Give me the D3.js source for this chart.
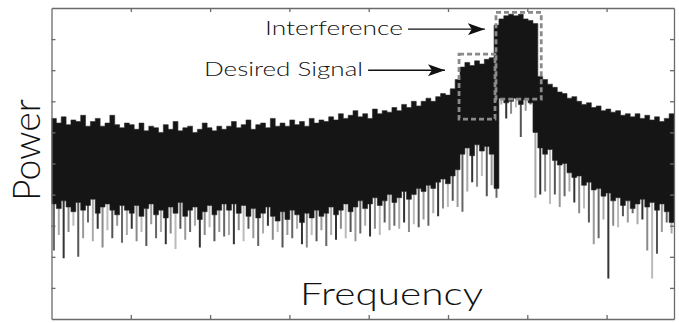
<!DOCTYPE html>
<html>
<head>
<meta charset="utf-8">
<script src="https://cdn.jsdelivr.net/npm/d3@7"></script>
<style>
body { margin: 0; background: #fff; }
text { font-family: "Lato", "DejaVu Sans", sans-serif; font-weight: 300; fill: #111; }
</style>
</head>
<body>
<div id="chart"></div>
<script>
// top of the dense band (power units, 0..100)
var hi = [64.5, 63, 65, 62.5, 64, 63.5, 65.5, 62, 63.5, 64.5, 62, 63, 65.5, 62.5, 61.5, 63,
  62.5, 61, 63, 60.5, 62, 61.5, 60, 62.5, 61, 63.5, 60.5, 61.5, 62, 60, 61, 63, 61.5, 60.5, 62, 61,
  62, 63.5, 61.5, 62.5, 64, 61, 62.5, 63, 61.5, 64.5, 62, 63, 62, 64, 62.5, 63.5, 62, 64.5, 63, 64,
  63.5, 65, 64, 66, 64.5, 65.5, 67, 65, 66, 64.5, 67.5, 66, 67, 66.5, 68,
  67, 69, 68, 70, 68.5, 70, 71, 70, 71.5, 72.5, 72, 74,
  77, 81, 82.5, 81.5, 83, 82, 83.5, 84,
  94.5, 96.5, 97.5, 98, 97.5, 98, 96.5, 96, 95,
  78, 77, 75.5, 74.5, 73, 72.5, 71, 71.5, 70, 69, 69.5, 68, 68.5, 67, 67.5, 66.5, 67, 65.5, 66, 65,
  66, 64.5, 65.5, 64, 65, 63.5, 64.5, 66];
// bottom of the solid band
var lo = [37, 35.5, 38, 36, 34.5, 37.5, 35, 36.5, 38.5, 34, 36, 37, 35, 33.5, 36.5, 35,
  34, 36.5, 33, 35.5, 37, 33.5, 35, 32.5, 36, 34, 37.5, 33, 35, 36, 32, 34.5, 36.5, 33.5, 35, 37,
  35, 37, 34, 36.5, 33, 35.5, 32.5, 34, 36, 33, 31.5, 34.5, 32, 35, 33.5, 31, 34, 32.5, 35, 33,
  34, 36, 33.5, 35, 37, 34.5, 36, 38, 35.5, 37, 39, 36.5, 38, 40, 37.5,
  39, 41, 38.5, 40, 42, 41, 43, 42, 44, 45, 43.5, 46,
  48, 53, 55, 52.5, 56, 54, 55.5, 53,
  42, 71, 69.5, 70, 71, 69, 70.5, 69.5, 60,
  55, 53, 54.5, 51, 49.5, 50, 47, 45.5, 46, 43, 44, 41.5, 42, 39.5, 40.5, 38, 39, 36.5, 38, 35.5,
  37, 38.5, 36, 37.5, 35, 37, 34.5, 31];
// lowest point of each spike
var sp = [22, 27, 19.5, 28, 30, 20, 26, 31, 25, 29, 23, 28.5, 26, 30, 24.5, 27,
  29, 25, 28, 23.5, 30.5, 26, 28, 24, 27.5, 22.5, 29, 25.5, 28, 30, 23, 27, 29.5, 25, 28, 26.5,
  27, 24, 28.5, 25, 29, 26, 23.5, 27.5, 30, 25.5, 28, 23, 27, 26, 29, 24, 23, 27, 25, 28.5,
  23.5, 27, 25.5, 29, 26, 28, 25, 27.5, 30, 26.5, 29, 27, 31, 28.5, 30,
  29, 31, 28, 30.5, 29.5, 32, 30, 34, 33, 35.5, 36, 38,
  36, 34.5, 41, 44, 42.5, 46, 39.5, 43,
  39, 69, 64.5, 66, 68, 58.5, 67, 69, 39,
  40, 41, 37, 40, 36, 39.5, 41, 37.5, 34, 35.5, 31, 24, 26, 32, 13, 30, 29.5, 33, 31, 34,
  30.5, 32, 22, 13, 21, 28, 31, 27.5];

var freqTicks = [1, 2, 3, 4, 5, 6, 7];
var powerTicks = [10, 20, 30, 40, 50, 60, 70, 80, 90];
var yLabel = "Power";
var xLabel = "Frequency";
var noteInterf = "Interference";
var noteDesired = "Desired Signal";

var w = 679, h = 323;
var pLeft = 51.5, pRight = 674, pTop = 8, pBottom = 319;

var svg = d3.select("#chart").append("svg")
  .attr("width", w)
  .attr("height", h);

var n = hi.length;
var bins = d3.scaleBand().domain(d3.range(n)).range([pLeft, pRight]);
var xb = d3.scaleLinear().domain([0, n]).range([pLeft, pRight]);
var xf = d3.scaleLinear().domain([0, 7.85]).range([pLeft, pRight]);
var y = d3.scaleLinear().domain([0, 100]).range([pBottom, pTop]);
var bw = bins.bandwidth();

svg.append("clipPath").attr("id", "clip")
  .append("rect").attr("x", pLeft).attr("y", pTop)
  .attr("width", pRight - pLeft).attr("height", pBottom - pTop);

var plot = svg.append("g").attr("clip-path", "url(#clip)");

var shades = ["#666", "#aaa", "#333", "#8a8a8a", "#bbb", "#555", "#999"];

// spikes below the band
plot.selectAll("line.spike").data(sp).enter().append("line")
  .attr("class", "spike")
  .attr("x1", (d, i) => bins(i) + bw / 2)
  .attr("x2", (d, i) => bins(i) + bw / 2)
  .attr("y1", (d, i) => y(lo[i]) - 2)
  .attr("y2", d => y(d))
  .attr("stroke", (d, i) => shades[i % shades.length])
  .attr("stroke-width", 2);

// the dense black band, one stepped area so no seams
var edges = d3.range(n + 1);
var band = d3.area()
  .curve(d3.curveStepAfter)
  .x(i => xb(i))
  .y0(i => y(lo[Math.min(i, n - 1)]))
  .y1(i => y(hi[Math.min(i, n - 1)]));
plot.append("path")
  .datum(edges)
  .attr("d", band)
  .attr("fill", "#151515")
  .attr("stroke", "#2a2a2a")
  .attr("stroke-width", 0.6);

// frame with inward ticks
function styleAxis(g) {
  g.selectAll("path, line").attr("stroke", "#6a6a6a").attr("stroke-width", 1.3);
}
svg.append("g").attr("transform", "translate(" + pLeft + ",0)")
  .call(d3.axisLeft(y).tickValues(powerTicks).tickSize(-4).tickSizeOuter(0).tickFormat(""))
  .call(styleAxis);
svg.append("g").attr("transform", "translate(" + pRight + ",0)")
  .call(d3.axisRight(y).tickValues(powerTicks).tickSize(-4).tickSizeOuter(0).tickFormat(""))
  .call(styleAxis);
svg.append("g").attr("transform", "translate(0," + pTop + ")")
  .call(d3.axisTop(xf).tickValues(freqTicks).tickSize(-4).tickSizeOuter(0).tickFormat(""))
  .call(styleAxis);
svg.append("g").attr("transform", "translate(0," + pBottom + ")")
  .call(d3.axisBottom(xf).tickValues(freqTicks).tickSize(-4).tickSizeOuter(0).tickFormat(""))
  .call(styleAxis);

// dashed boxes
var boxes = [
  {x0: 83.8, x1: 91.2, v0: 64.3, v1: 85.2},
  {x0: 91.4, x1: 100.7, v0: 70.7, v1: 98.6}
];
svg.selectAll("rect.box").data(boxes).enter().append("rect")
  .attr("class", "box")
  .attr("x", d => xb(d.x0))
  .attr("width", d => xb(d.x1) - xb(d.x0))
  .attr("y", d => y(d.v1))
  .attr("height", d => y(d.v0) - y(d.v1))
  .attr("fill", "none")
  .attr("stroke", "#8a8a8a")
  .attr("stroke-width", 2.8)
  .attr("stroke-dasharray", "5,3");

// arrows
svg.append("defs").append("marker")
  .attr("id", "head")
  .attr("viewBox", "0 0 17 12")
  .attr("refX", 17).attr("refY", 6)
  .attr("markerWidth", 17).attr("markerHeight", 12)
  .attr("markerUnits", "userSpaceOnUse")
  .attr("orient", "auto")
  .append("path")
  .attr("d", "M0,0 L17,6 L0,12 L4,6 Z")
  .attr("fill", "#111");

var arrows = [
  {x0: 73.3, x1: 89.1, v: 93.2},
  {x0: 65.1, x1: 80.9, v: 80}
];
svg.selectAll("line.arrow").data(arrows).enter().append("line")
  .attr("class", "arrow")
  .attr("x1", d => xb(d.x0)).attr("x2", d => xb(d.x1))
  .attr("y1", d => y(d.v)).attr("y2", d => y(d.v))
  .attr("stroke", "#111").attr("stroke-width", 1.4)
  .attr("marker-end", "url(#head)");

// labels
svg.append("text")
  .attr("x", 265).attr("y", 35)
  .attr("font-size", 20)
  .attr("textLength", 138).attr("lengthAdjust", "spacingAndGlyphs")
  .text(noteInterf);
svg.append("text")
  .attr("x", 204).attr("y", 76)
  .attr("font-size", 20)
  .attr("textLength", 159).attr("lengthAdjust", "spacingAndGlyphs")
  .text(noteDesired);
svg.append("text")
  .attr("x", 300).attr("y", 305)
  .attr("font-size", 31)
  .attr("textLength", 183).attr("lengthAdjust", "spacingAndGlyphs")
  .text(xLabel);
svg.append("text")
  .attr("transform", "translate(40,201) rotate(-90)")
  .attr("font-size", 37)
  .attr("textLength", 102).attr("lengthAdjust", "spacingAndGlyphs")
  .text(yLabel);
</script>
</body>
</html>
